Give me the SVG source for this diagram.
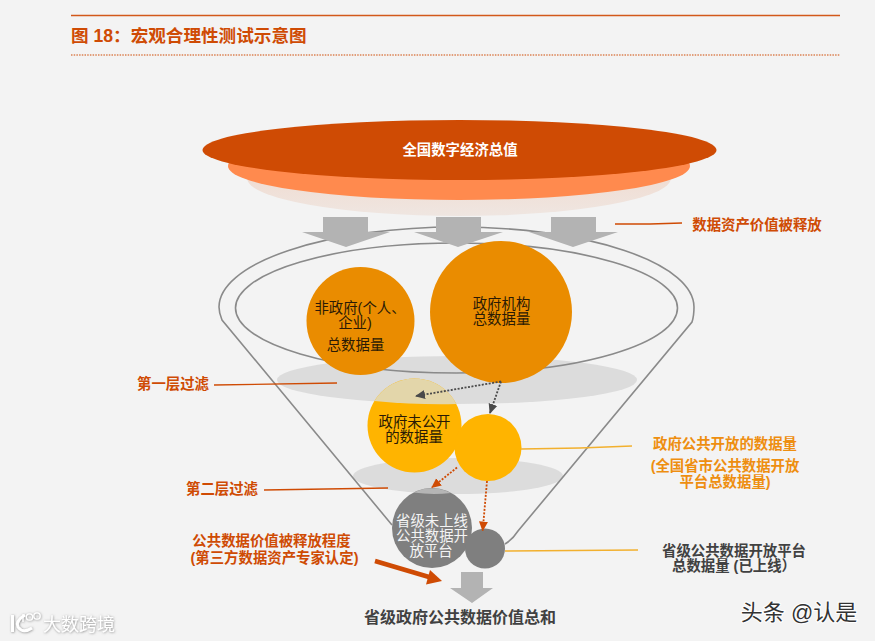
<svg xmlns="http://www.w3.org/2000/svg" width="875" height="641" viewBox="0 0 875 641">
<defs>
<style>
text{font-family:"Liberation Sans","Noto Sans CJK SC",sans-serif;text-anchor:middle}
.o{fill:#cf4b04;font-weight:700;font-size:14.4px}
.a{fill:#ee8e10;font-weight:700;font-size:14.4px}
.d{fill:#2a1a05;font-size:14.4px}
.w{fill:#f4f4f4;font-size:14.4px}
.g{fill:#414141;font-weight:700;font-size:14.4px}
.fun{fill:none;stroke:#8a8a8a;stroke-width:1.6}
.lead{fill:none;stroke:#cf4b04;stroke-width:1.3}
.leady{fill:none;stroke:#f2b02e;stroke-width:1.5}
.arrow{fill:#b3b3b3}
.dk{stroke:#4a4a4a;stroke-width:1.8;stroke-dasharray:2 1.500;fill:none}
.or{stroke:#cf4b04;stroke-width:1.8;stroke-dasharray:2 1.500;fill:none}
</style>
<marker id="mk" markerWidth="10" markerHeight="10" refX="9" refY="5" orient="auto" markerUnits="userSpaceOnUse"><path d="M0 0.500L10 5L0 9.500Z" fill="#4a4a4a"/></marker>
<marker id="mo" markerWidth="10" markerHeight="10" refX="9" refY="5" orient="auto" markerUnits="userSpaceOnUse"><path d="M0 0.500L10 5L0 9.500Z" fill="#cf4b04"/></marker>
<linearGradient id="sh" x1="0" y1="0" x2="0" y2="1"><stop offset="0.500" stop-color="#f0ddd3"/><stop offset="1" stop-color="#efe6e1"/></linearGradient>
<filter id="ds" x="-20%" y="-30%" width="140%" height="160%"><feDropShadow dx="0.500" dy="0.500" stdDeviation="0.800" flood-color="#888"/></filter>
</defs>
<rect width="875" height="641" fill="#f3f3f3"/>
<g id="header">
<line x1="71" y1="15.500" x2="840" y2="15.500" stroke="#d2581a" stroke-width="1.600"/>
<text x="71" y="42" style="text-anchor:start;font-size:17.6px;font-weight:700;fill:#cf4b04">图 18：宏观合理性测试示意图</text>
<line x1="71" y1="55" x2="840" y2="55" stroke="#cf4b04" stroke-width="1.200" stroke-dasharray="1.500 1.200"/>
</g>
<g id="top-disc">
<ellipse cx="459" cy="178" rx="212" ry="38" fill="url(#sh)"/>
<ellipse cx="459" cy="166" rx="231" ry="34" fill="#ff8a4e"/>
<ellipse cx="459.500" cy="150" rx="257" ry="30" fill="#cf4b04"/>
<text x="460" y="155" style="font-size:14.4px;font-weight:700;fill:#fff">全国数字经济总值</text>
</g>
<g id="filter-shadows">
<ellipse cx="457" cy="380" rx="180" ry="24" fill="#dcdcdc"/>
<ellipse cx="458" cy="476" rx="105" ry="18" fill="#dcdcdc"/>
</g>
<g id="funnel">
<ellipse cx="456.500" cy="308" rx="221" ry="65" class="fun"/>
<path class="fun" d="M392 525L222 320Q219 313 219 307A237.500 80 0 0 1 694 307Q694 316 692 322L518 531Q513 539 505 544"/>
</g>
<g id="arrows-top">
<path class="arrow" d="M323 217H368V232H390L346 247L302 232H323Z"/>
<path class="arrow" d="M436 217H481V232H503L458 247L414 232H436Z"/>
<path class="arrow" d="M551 217H596V232H618L573 247L529 232H551Z"/>
</g>
<g id="non-gov">
<circle cx="360.500" cy="321" r="54" fill="#ea8c00"/>
<text class="d" x="360" y="312.500">非政府(个人、</text>
<text class="d" x="355" y="327.500">企业)</text>
<text class="d" x="355.500" y="349.500">总数据量</text>
</g>
<g id="gov">
<circle cx="501" cy="312" r="71" fill="#ea8c00"/>
<text class="d" x="501.500" y="309">政府机构</text>
<text class="d" x="501.500" y="324">总数据量</text>
</g>
<g id="gov-unpublished">
<circle cx="414.500" cy="425.500" r="47" fill="#ffb400"/>
<path d="M374.400 401A47 47 0 0 1 456.300 404Q418 405 374.400 401Z" fill="#e3d6aa"/>
<text class="d" x="414.500" y="427">政府未公开</text>
<text class="d" x="414" y="441.500">的数据量</text>
</g>
<g id="gov-public"><circle cx="488" cy="447.500" r="33.500" fill="#ffb400"/></g>
<g id="province-offline">
<circle cx="432" cy="528" r="40" fill="#7f7f7f"/>
<path d="M413.600 492.500A40 40 0 0 1 450.800 493Q432 495 413.600 492.500Z" fill="#b5b5b5"/>
<text class="w" x="432" y="525.500">省级未上线</text>
<text class="w" x="432" y="541">公共数据开</text>
<text class="w" x="431" y="556">放平台</text>
</g>
<g id="province-online"><circle cx="485" cy="548.500" r="20" fill="#7f7f7f"/></g>
<g id="connectors">
<line class="dk" x1="501" y1="381.500" x2="416" y2="396" marker-end="url(#mk)"/>
<line class="dk" x1="501" y1="381.500" x2="490" y2="413" marker-end="url(#mk)"/>
<line class="or" x1="457" y1="467.500" x2="432" y2="487.500" marker-end="url(#mo)"/>
<line class="or" x1="487" y1="481" x2="482.700" y2="530.500" marker-end="url(#mo)"/>
<path d="M375 561L429 577" stroke="#cf4b04" stroke-width="4.500" fill="none"/>
<path d="M442 581L426 584.500L430 570Z" fill="#cf4b04"/>
<path class="lead" d="M615 224L650 224L682 223"/>
<path class="lead" d="M214 385L337 383"/>
<path class="lead" d="M264 490L388 488"/>
<path class="leady" d="M521 449L580 448L632 446"/>
<path class="leady" d="M505 551L638 550"/>
<path class="arrow" d="M461 572H483V588H493L472 603L450 588H461Z"/>
</g>
<g id="labels">
<text class="o" x="757" y="229.500">数据资产价值被释放</text>
<text class="o" x="173" y="388.500">第一层过滤</text>
<text class="o" x="222" y="494">第二层过滤</text>
<text class="a" x="725" y="448.500">政府公共开放的数据量</text>
<text class="a" x="725" y="470.500">(全国省市公共数据开放</text>
<text class="a" x="725" y="486.500">平台总数据量)</text>
<text class="o" x="271.500" y="545.500">公共数据价值被释放程度</text>
<text class="o" x="274.500" y="562.500">(第三方数据资产专家认定)</text>
<text class="g" x="734" y="555.500">省级公共数据开放平台</text>
<text class="g" x="734" y="570.500">总数据量 (已上线）</text>
<text class="g" x="460" y="623" style="font-size:16px">省级政府公共数据价值总和</text>
</g>
<g id="watermarks">
<g filter="url(#ds)">
<path d="M12.500 615V632M25 615Q15 621 18 627Q23 634 32 628" fill="none" stroke="#fff" stroke-width="3"/>
<path d="M23 614V622" fill="none" stroke="#fff" stroke-width="1.300"/>
<circle cx="29.500" cy="617" r="3.200" fill="none" stroke="#fff" stroke-width="1.300"/>
<circle cx="37" cy="616" r="3.200" fill="none" stroke="#fff" stroke-width="1.300"/>
<text x="79" y="631" style="font-size:18px;fill:#fff">大数跨境</text>
</g>
<text x="799" y="620" style="font-size:22px;fill:#333;stroke:#fff;stroke-width:2;paint-order:stroke">头条 @认是</text>
</g>
</svg>
